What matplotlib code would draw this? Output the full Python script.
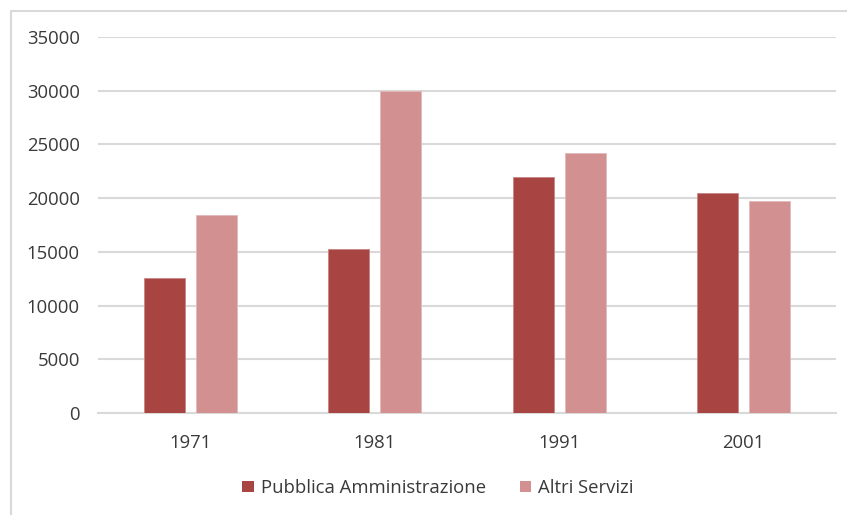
import matplotlib
matplotlib.use("Agg")
import matplotlib.pyplot as plt
from matplotlib.lines import Line2D
from matplotlib.patches import Patch
import numpy as np

plt.rcParams['font.family'] = ['Open Sans', 'DejaVu Sans']

years = ["1971", "1981", "1991", "2001"]
pubblica = [12600, 15300, 21950, 20500]
altri = [18400, 30000, 24200, 19750]
series_names = ["Pubblica Amministrazione", "Altri Servizi"]
yticks = [0, 5000, 10000, 15000, 20000, 25000, 30000, 35000]

c_pa = "#A84543"
c_as = "#D29190"
text_c = "#3A3A3A"
grid_c = "#D9D9D9"

W, H = 847, 515
fig = plt.figure(figsize=(W / 100, H / 100), dpi=100)
ax = fig.add_axes([98 / W, 1 - 413 / H, (836 - 98) / W, (413 - 37) / H])

x = np.arange(len(years))
bw = 0.222
off = 0.142
ax.bar(x - off, pubblica, width=bw, color=c_pa, edgecolor="#C98585", linewidth=0.6, zorder=3)
ax.bar(x + off, altri, width=bw, color=c_as, edgecolor="#E2B9B8", linewidth=0.6, zorder=3)

ax.set_xlim(-0.5, len(years) - 0.5)
ax.set_ylim(0, 35000)
ax.set_yticks(yticks)
ax.set_yticklabels([str(v) for v in yticks])
ax.set_xticks(x)
ax.set_xticklabels(years)
ax.yaxis.grid(True, color=grid_c, linewidth=1.5, zorder=0)
ax.set_axisbelow(True)
for s in ["top", "right", "left"]:
    ax.spines[s].set_visible(False)
ax.spines["bottom"].set_color(grid_c)
ax.spines["bottom"].set_linewidth(1.5)
ax.tick_params(axis="both", length=0, colors=text_c, labelsize=13.3)
ax.tick_params(axis="y", pad=13)
ax.tick_params(axis="x", pad=15)

handles = [Patch(facecolor=c_pa, edgecolor="none"), Patch(facecolor=c_as, edgecolor="none")]
leg = fig.legend(handles, series_names, loc="center", bbox_to_anchor=(438 / W, 1 - 488 / H),
                 ncol=2, frameon=False, fontsize=13.3, handlelength=0.62, handleheight=0.62,
                 handletextpad=0.4, columnspacing=1.8)
for t in leg.get_texts():
    t.set_color(text_c)

# chart area frame (left and top edges visible)
fig.add_artist(Line2D([10.5 / W, 10.5 / W, 1.0], [0.0, 1 - 11 / H, 1 - 11 / H],
                      transform=fig.transFigure, color=grid_c, linewidth=1.5))

fig.savefig("out.png", dpi=100)
